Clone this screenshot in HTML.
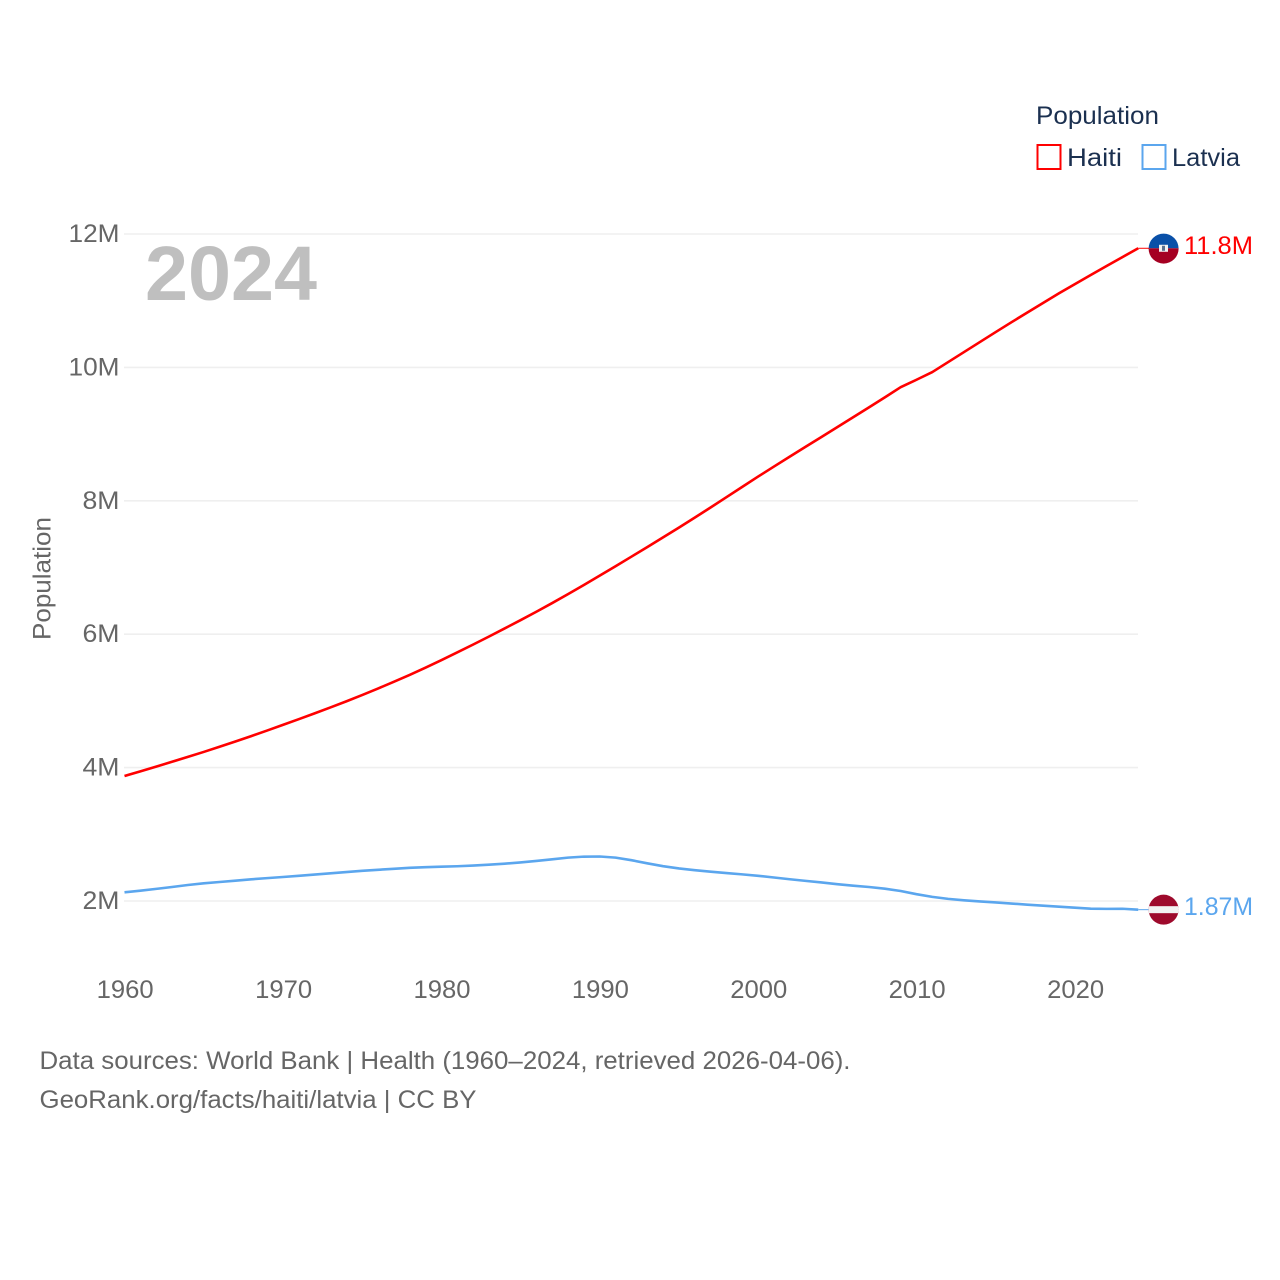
<!DOCTYPE html>
<html lang="en">
<head>
<meta charset="utf-8">
<title>Population: Haiti and Latvia</title>
<style>
html,body{margin:0;padding:0;background:#fff}
svg{display:block;font-family:"Liberation Sans",Arial,sans-serif}
</style>
</head>
<body>
<svg id="chart" xmlns="http://www.w3.org/2000/svg" width="1280" height="1280" viewBox="0 0 1280 1280">
  <rect width="1280" height="1280" fill="#fff"/>
  <g id="grid"></g>
  <g id="yticks"></g>
  <g id="xticks"></g>
  <text transform="translate(50.5,640) rotate(-90)" font-size="25" fill="#666" textLength="123" lengthAdjust="spacingAndGlyphs">Population</text>
  <text x="145" y="300" font-size="77" font-weight="700" fill="#bfbfbf" textLength="172" lengthAdjust="spacingAndGlyphs">2024</text>

  <g id="series"></g>

  <g id="haiti-end">
    <clipPath id="haiti-clip"><circle cx="1163.6" cy="0.3" r="15"/></clipPath>
    <g clip-path="url(#haiti-clip)">
      <rect x="1148" y="-16" width="32" height="16" fill="#0a50a8"/>
      <rect x="1148" y="0" width="32" height="17" fill="#a50022"/>
      <rect x="1159" y="-3.5" width="9" height="7" fill="#f2f2f2"/>
      <rect x="1162" y="-2.5" width="3" height="5" fill="#5a6f8f"/>
    </g>
    <text id="haiti-value" x="1184" y="5.5" font-size="25" fill="#ff0000" textLength="69" lengthAdjust="spacingAndGlyphs"></text>
  </g>
  <g id="latvia-end">
    <clipPath id="latvia-clip"><circle cx="1163.6" cy="0" r="15"/></clipPath>
    <g clip-path="url(#latvia-clip)">
      <rect x="1148" y="-16" width="32" height="32" fill="#9e0a2c"/>
      <rect x="1148" y="-3.5" width="32" height="7" fill="#f2f2f2"/>
    </g>
    <text id="latvia-value" x="1184" y="5.5" font-size="25" fill="#5ba6ee" textLength="69" lengthAdjust="spacingAndGlyphs"></text>
  </g>

  <g>
    <text x="1036" y="124" font-size="25" fill="#1b3050" textLength="123" lengthAdjust="spacingAndGlyphs">Population</text>
    <g>
      <rect x="1037.5" y="145" width="23" height="24" fill="#fff" stroke="#ff0000" stroke-width="2"/>
      <text x="1067" y="166" font-size="25" fill="#1b3050" textLength="55" lengthAdjust="spacingAndGlyphs">Haiti</text>
    </g>
    <g>
      <rect x="1142.5" y="145" width="23" height="24" fill="#fff" stroke="#5ba6ee" stroke-width="2"/>
      <text x="1172" y="166" font-size="25" fill="#1b3050" textLength="68" lengthAdjust="spacingAndGlyphs">Latvia</text>
    </g>
  </g>

  <g>
    <text x="39.5" y="1069" font-size="25" fill="#666" textLength="811" lengthAdjust="spacingAndGlyphs">Data sources: World Bank | Health (1960–2024, retrieved 2026-04-06).</text>
    <text x="39.5" y="1108" font-size="25" fill="#666" textLength="437" lengthAdjust="spacingAndGlyphs">GeoRank.org/facts/haiti/latvia | CC BY</text>
  </g>
</svg>
<script>
const startYear = 1960;
const yTickValues = [2, 4, 6, 8, 10, 12];
const yTickLabels = ["2M", "4M", "6M", "8M", "10M", "12M"];
const xTickYears = [1960, 1970, 1980, 1990, 2000, 2010, 2020];
const haitiValues = [3.874,3.944,4.015,4.087,4.160,4.235,4.312,4.391,4.472,4.555,4.640,4.726,4.813,4.902,4.993,5.087,5.185,5.286,5.390,5.498,5.611,5.726,5.844,5.964,6.086,6.210,6.337,6.467,6.601,6.738,6.878,7.019,7.162,7.306,7.451,7.598,7.748,7.900,8.054,8.209,8.363,8.513,8.662,8.810,8.957,9.104,9.252,9.401,9.551,9.703,9.815,9.930,10.080,10.230,10.380,10.530,10.678,10.823,10.968,11.111,11.249,11.385,11.520,11.654,11.786];
const latviaValues = [2.130,2.155,2.182,2.210,2.240,2.265,2.285,2.305,2.325,2.343,2.360,2.378,2.396,2.415,2.434,2.452,2.468,2.483,2.497,2.507,2.514,2.521,2.531,2.544,2.560,2.578,2.600,2.625,2.650,2.665,2.667,2.650,2.612,2.565,2.522,2.488,2.462,2.440,2.419,2.399,2.378,2.352,2.326,2.302,2.278,2.252,2.230,2.210,2.185,2.150,2.102,2.062,2.032,2.010,1.993,1.978,1.962,1.945,1.930,1.915,1.900,1.885,1.882,1.884,1.870];
const haitiEndLabel = "11.8M";
const latviaEndLabel = "1.87M";

const NS = "http://www.w3.org/2000/svg";
function xScale(year) { return 124.5 + (year - 1960) * 15.84; }
function yScale(v) { return 901 - (v - 2) * 66.7; }
function make(tag, parent, attrs) {
  const el = document.createElementNS(NS, tag);
  for (const k in attrs) el.setAttribute(k, attrs[k]);
  parent.appendChild(el);
  return el;
}

const grid = document.getElementById("grid");
const yticks = document.getElementById("yticks");
yTickValues.forEach(function (v, i) {
  const line = make("line", grid, { x1: 124, x2: 1138, y1: yScale(v), y2: yScale(v), stroke: "#efefef", "stroke-width": 1.6 });
  
  
  const label = yTickLabels[i];
  const t = make("text", yticks, { x: 119.5, y: yScale(v) + 8, "text-anchor": "end", "font-size": 25, fill: "#666", textLength: label.length === 2 ? 37 : 51, lengthAdjust: "spacingAndGlyphs" });
  
  
  t.textContent = label;
});

const xticks = document.getElementById("xticks");
xTickYears.forEach(function (yr) {
  const t = make("text", xticks, { x: xScale(yr) + 0.7, y: 998, "text-anchor": "middle", "font-size": 25, fill: "#666", textLength: 57, lengthAdjust: "spacingAndGlyphs" });
  
  
  t.textContent = String(yr);
});

function seriesPoints(values) {
  return values.map(function (v, i) { return xScale(startYear + i).toFixed(2) + "," + yScale(v).toFixed(2); }).join(" ");
}
const series = document.getElementById("series");

const latviaLine = make("polyline", series, { points: seriesPoints(latviaValues), fill: "none", stroke: "#5ba6ee", "stroke-width": 2.6, "stroke-linejoin": "round" });


const haitiLine = make("polyline", series, { points: seriesPoints(haitiValues), fill: "none", stroke: "#ff0000", "stroke-width": 2.6, "stroke-linejoin": "round" });



const haitiLastY = yScale(haitiValues[haitiValues.length - 1]);
const latviaLastY = yScale(latviaValues[latviaValues.length - 1]);
const lastX = xScale(startYear + haitiValues.length - 1);

const haitiConn = make("line", series, { x1: lastX, x2: 1149, y1: haitiLastY, y2: haitiLastY, stroke: "#ff0000", "stroke-width": 1 });


const latviaConn = make("line", series, { x1: xScale(startYear + latviaValues.length - 1), x2: 1149, y1: latviaLastY, y2: latviaLastY, stroke: "#5ba6ee", "stroke-width": 1 });



document.getElementById("haiti-end").setAttribute("transform", "translate(0," + haitiLastY + ")");
document.getElementById("latvia-end").setAttribute("transform", "translate(0," + latviaLastY + ")");
document.getElementById("haiti-value").textContent = haitiEndLabel;
document.getElementById("latvia-value").textContent = latviaEndLabel;
</script>
</body>
</html>
